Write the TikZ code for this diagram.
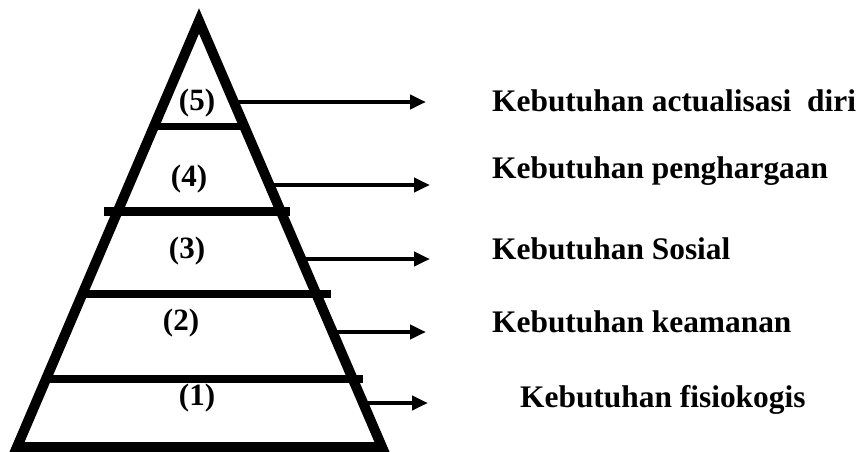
\documentclass[tikz,border=0pt]{standalone}
\usepackage{fontspec}
\setmainfont{Liberation Serif}
\usetikzlibrary{arrows.meta}
\begin{document}
\begin{tikzpicture}[x=1pt,y=-1pt,
  edge/.style={line width=10pt,line join=miter},
  bar/.style={line width=8.5pt,line cap=butt},
  arr/.style={line width=4pt,-{Triangle[length=16pt,width=14pt]}},
  num/.style={anchor=base,inner sep=0pt,font=\fontsize{31}{36}\selectfont\bfseries},
  lbl/.style={anchor=base west,inner sep=0pt,font=\fontsize{31.4}{36}\selectfont\bfseries}]
\useasboundingbox (0,0) rectangle (864,452);
% pyramid outline
\coordinate (apex) at (199,21);
\coordinate (bl) at (17,447);
\coordinate (br) at (382,447);
\draw[edge] (apex) -- (bl) -- (br) -- cycle;
% level dividers
\coordinate (b1l) at (158,126.5); \coordinate (b1r) at (245,126.5);
\coordinate (b2l) at (104,211.5); \coordinate (b2r) at (290,211.5);
\coordinate (b3l) at (85,294);    \coordinate (b3r) at (331,294);
\coordinate (b4l) at (49,379);    \coordinate (b4r) at (363,379);
\draw[bar,line width=7.5pt] (b1l) -- (b1r);
\draw[bar] (b2l) -- (b2r);
\draw[bar] (b3l) -- (b3r);
\draw[bar] (b4l) -- (b4r);
% level numbers
\node[num] (n5) at (197,110) {(5)};
\node[num] (n4) at (189,186) {(4)};
\node[num] (n3) at (187,258) {(3)};
\node[num] (n2) at (181,330) {(2)};
\node[num] (n1) at (197,405) {(1)};
% arrows leaving the right edge
\coordinate (s5) at (238,102); \coordinate (e5) at (426,102);
\coordinate (s4) at (274,185); \coordinate (e4) at (430,185);
\coordinate (s3) at (306,259); \coordinate (e3) at (430,259);
\coordinate (s2) at (337,332); \coordinate (e2) at (426,332);
\coordinate (s1) at (366,403); \coordinate (e1) at (428,403);
\draw[arr] (s5) -- (e5);
\draw[arr] (s4) -- (e4);
\draw[arr] (s3) -- (e3);
\draw[arr] (s2) -- (e2);
\draw[arr] (s1) -- (e1);
% needs
\node[lbl] (t5) at (492,111) {Kebutuhan actualisasi\ \ diri};
\node[lbl] (t4) at (492,178) {Kebutuhan penghargaan};
\node[lbl] (t3) at (492,259) {Kebutuhan Sosial};
\node[lbl] (t2) at (492,332) {Kebutuhan keamanan};
\node[lbl] (t1) at (520,407) {Kebutuhan fisiokogis};
\end{tikzpicture}
\end{document}
